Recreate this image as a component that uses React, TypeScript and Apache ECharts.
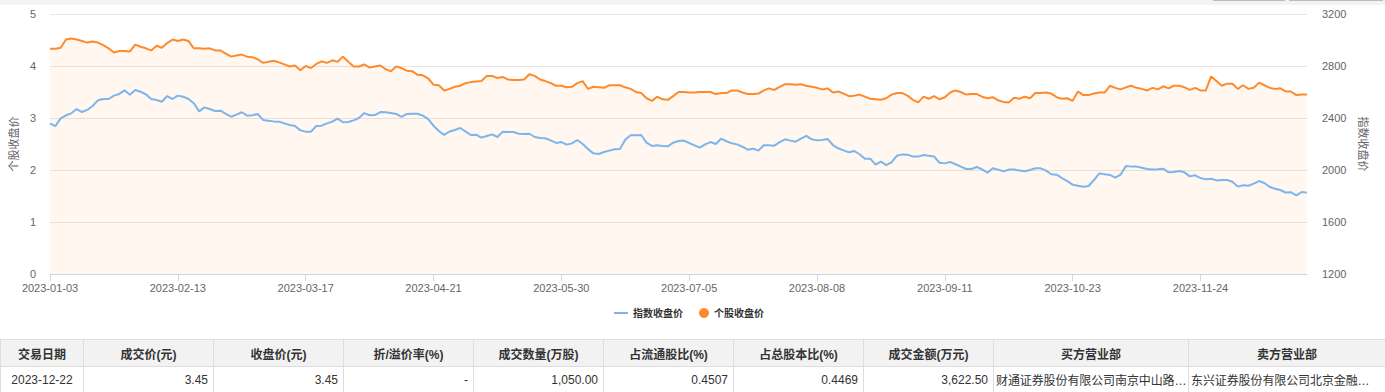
import React, { useEffect, useRef } from "react";
import * as echarts from "echarts";

// Trading days of 2023 (month -> days)
const tradingDays: [number, number[]][] = [
  [1, [3, 4, 5, 6, 9, 10, 11, 12, 13, 16, 17, 18, 19, 20, 30, 31]],
  [2, [1, 2, 3, 6, 7, 8, 9, 10, 13, 14, 15, 16, 17, 20, 21, 22, 23, 24, 27, 28]],
  [3, [1, 2, 3, 6, 7, 8, 9, 10, 13, 14, 15, 16, 17, 20, 21, 22, 23, 24, 27, 28, 29, 30, 31]],
  [4, [3, 4, 6, 7, 10, 11, 12, 13, 14, 17, 18, 19, 20, 21, 24, 25, 26, 27, 28]],
  [5, [4, 5, 8, 9, 10, 11, 12, 15, 16, 17, 18, 19, 22, 23, 24, 25, 26, 29, 30, 31]],
  [6, [1, 2, 5, 6, 7, 8, 9, 12, 13, 14, 15, 16, 19, 20, 21, 26, 27, 28, 29, 30]],
  [7, [3, 4, 5, 6, 7, 10, 11, 12, 13, 14, 17, 18, 19, 20, 21, 24, 25, 26, 27, 28, 31]],
  [8, [1, 2, 3, 4, 7, 8, 9, 10, 11, 14, 15, 16, 17, 18, 21, 22, 23, 24, 25, 28, 29, 30, 31]],
  [9, [1, 4, 5, 6, 7, 8, 11, 12, 13, 14, 15, 18, 19, 20, 21, 22, 25, 26, 27, 28]],
  [10, [9, 10, 11, 12, 13, 16, 17, 18, 19, 20, 23, 24, 25, 26, 27, 30, 31]],
  [11, [1, 2, 3, 6, 7, 8, 9, 10, 13, 14, 15, 16, 17, 20, 21, 22, 23, 24, 27, 28, 29, 30]],
  [12, [1, 4, 5, 6, 7, 8, 11, 12, 13, 14, 15, 18, 19, 20, 21, 22]],
];

const pad = (n: number) => (n < 10 ? "0" + n : "" + n);
const categories: string[] = tradingDays.flatMap(([m, days]) =>
  days.map((d) => `2023-${pad(m)}-${pad(d)}`)
);

// 个股收盘价 (left axis)
const stockClose: number[] = [
  4.33, 4.33, 4.35, 4.51, 4.53, 4.51, 4.48, 4.45, 4.47, 4.45,
  4.40, 4.34, 4.26, 4.29, 4.29, 4.28, 4.41, 4.37, 4.34, 4.30,
  4.39, 4.35, 4.44, 4.51, 4.48, 4.51, 4.48, 4.34, 4.34, 4.33,
  4.34, 4.30, 4.30, 4.24, 4.18, 4.20, 4.22, 4.18, 4.17, 4.13,
  4.06, 4.08, 4.10, 4.07, 4.03, 3.99, 4.01, 3.92, 4.00, 3.96,
  4.04, 4.09, 4.06, 4.11, 4.08, 4.18, 4.08, 3.99, 3.99, 4.03,
  3.97, 3.99, 4.01, 3.94, 3.90, 3.99, 3.96, 3.91, 3.90, 3.83,
  3.82, 3.76, 3.64, 3.63, 3.53, 3.56, 3.60, 3.62, 3.67, 3.69,
  3.70, 3.71, 3.81, 3.81, 3.77, 3.79, 3.74, 3.73, 3.73, 3.74,
  3.84, 3.81, 3.74, 3.71, 3.67, 3.62, 3.62, 3.59, 3.60, 3.67,
  3.71, 3.56, 3.60, 3.59, 3.58, 3.63, 3.63, 3.63, 3.59, 3.56,
  3.50, 3.48, 3.38, 3.33, 3.41, 3.36, 3.35, 3.42, 3.50, 3.50,
  3.49, 3.49, 3.50, 3.50, 3.50, 3.46, 3.48, 3.48, 3.53, 3.53,
  3.49, 3.46, 3.46, 3.47, 3.53, 3.57, 3.54, 3.60, 3.65, 3.65,
  3.64, 3.65, 3.62, 3.60, 3.58, 3.55, 3.57, 3.49, 3.51, 3.47,
  3.42, 3.43, 3.45, 3.41, 3.37, 3.36, 3.35, 3.38, 3.45, 3.48,
  3.48, 3.43, 3.35, 3.30, 3.41, 3.37, 3.42, 3.36, 3.40, 3.49,
  3.53, 3.50, 3.45, 3.46, 3.46, 3.41, 3.38, 3.40, 3.34, 3.31,
  3.30, 3.39, 3.37, 3.41, 3.38, 3.48, 3.48, 3.49, 3.47, 3.40,
  3.37, 3.38, 3.33, 3.51, 3.44, 3.44, 3.47, 3.49, 3.49, 3.62,
  3.58, 3.55, 3.59, 3.62, 3.58, 3.56, 3.53, 3.58, 3.55, 3.61,
  3.57, 3.62, 3.62, 3.59, 3.54, 3.58, 3.53, 3.53, 3.80, 3.71,
  3.62, 3.66, 3.66, 3.56, 3.63, 3.56, 3.58, 3.68, 3.63, 3.58,
  3.56, 3.57, 3.51, 3.51, 3.44, 3.45, 3.45,
];

// 指数收盘价 (right axis)
const indexClose: number[] = [
  2359, 2338, 2397, 2421, 2436, 2469, 2446, 2462, 2492, 2536,
  2546, 2546, 2572, 2585, 2613, 2579, 2615, 2602, 2582, 2546,
  2538, 2525, 2569, 2546, 2572, 2564, 2546, 2513, 2451, 2482,
  2469, 2454, 2456, 2431, 2410, 2426, 2444, 2418, 2421, 2431,
  2385, 2379, 2374, 2372, 2359, 2346, 2338, 2305, 2295, 2295,
  2338, 2341, 2359, 2372, 2395, 2367, 2369, 2382, 2400, 2438,
  2421, 2423, 2446, 2444, 2438, 2431, 2408, 2431, 2433, 2433,
  2418, 2392, 2341, 2300, 2270, 2296, 2308, 2323, 2297, 2269,
  2272, 2249, 2262, 2274, 2254, 2295, 2292, 2292, 2279, 2277,
  2279, 2254, 2246, 2244, 2228, 2208, 2215, 2195, 2205, 2231,
  2200, 2162, 2128, 2123, 2138, 2149, 2159, 2162, 2233, 2267,
  2267, 2269, 2210, 2185, 2190, 2185, 2182, 2210, 2223, 2226,
  2208, 2190, 2172, 2197, 2215, 2200, 2241, 2221, 2205, 2197,
  2179, 2156, 2164, 2149, 2190, 2190, 2187, 2215, 2236, 2226,
  2218, 2241, 2262, 2236, 2228, 2231, 2238, 2192, 2167, 2151,
  2136, 2146, 2121, 2087, 2087, 2041, 2064, 2038, 2059, 2110,
  2120, 2118, 2103, 2103, 2115, 2110, 2103, 2056, 2051, 2062,
  2044, 2026, 2008, 2008, 2023, 2005, 1979, 2013, 2003, 1990,
  2003, 2003, 1997, 1990, 2000, 2013, 2013, 1995, 1967, 1964,
  1938, 1915, 1887, 1879, 1872, 1877, 1923, 1974, 1967, 1962,
  1941, 1964, 2031, 2026, 2026, 2018, 2008, 2003, 2005, 2010,
  1982, 1985, 1992, 1982, 1951, 1959, 1938, 1928, 1933, 1920,
  1923, 1923, 1910, 1872, 1882, 1879, 1895, 1915, 1900, 1869,
  1856, 1846, 1826, 1828, 1805, 1831, 1826,
];

const tableHeaders: string[] = [
  "交易日期", "成交价(元)", "收盘价(元)", "折/溢价率(%)", "成交数量(万股)",
  "占流通股比(%)", "占总股本比(%)", "成交金额(万元)", "买方营业部", "卖方营业部",
];
const tableRow: string[] = [
  "2023-12-22", "3.45", "3.45", "-", "1,050.00",
  "0.4507", "0.4469", "3,622.50", "财通证券股份有限公司南京中山路…", "东兴证券股份有限公司北京金融…",
];
const colWidths = [83, 130, 130, 130, 130, 130, 130, 130, 195, 197];
const colAlign: ("center" | "right" | "left")[] = [
  "center", "right", "right", "right", "right", "right", "right", "right", "left", "left",
];

const FONT = "'Liberation Sans', Arial, 'Noto Sans CJK SC', sans-serif";

export default function App() {
  const ref = useRef<HTMLDivElement>(null);

  useEffect(() => {
    document.body.style.margin = "0";
    if (!ref.current) return;
    const chart = echarts.init(ref.current, undefined, { renderer: "svg" });
    chart.setOption({
      animation: false,
      textStyle: { fontFamily: FONT },
      grid: { left: 50, right: 78, top: 9, height: 260 },
      legend: [
        {
          data: ["指数收盘价"],
          left: 609,
          top: 298,
          icon: "rect",
          itemWidth: 14,
          itemHeight: 2,
          itemGap: 10,
          textStyle: { fontSize: 10, color: "#333", fontWeight: "bold", fontFamily: FONT },
        },
        {
          data: ["个股收盘价"],
          left: 694,
          top: 298,
          icon: "circle",
          itemWidth: 10,
          itemHeight: 10,
          textStyle: { fontSize: 10, color: "#333", fontWeight: "bold", fontFamily: FONT },
        },
      ],
      xAxis: {
        type: "category",
        boundaryGap: false,
        data: categories,
        axisLine: { lineStyle: { color: "#ccd6eb" } },
        axisTick: { interval: 23, length: 7, lineStyle: { color: "#ccd6eb" } },
        axisLabel: { interval: 23, color: "#666", fontSize: 11, margin: 8 },
        splitLine: { show: false },
      },
      yAxis: [
        {
          type: "value",
          position: "left",
          min: 0,
          max: 5,
          interval: 1,
          name: "个股收盘价",
          nameLocation: "middle",
          nameGap: 28,
          nameTextStyle: { color: "#666", fontSize: 11 },
          axisLine: { show: false },
          axisTick: { show: false },
          axisLabel: { color: "#666", fontSize: 11, margin: 14, formatter: (v: number) => String(v) },
          splitLine: { lineStyle: { color: "#e6e6e6" } },
        },
        {
          type: "value",
          position: "right",
          min: 1200,
          max: 3200,
          interval: 400,
          name: "指数收盘价",
          nameLocation: "middle",
          nameRotate: -90,
          nameGap: 46,
          nameTextStyle: { color: "#666", fontSize: 11 },
          axisLine: { show: false },
          axisTick: { show: false },
          axisLabel: { color: "#666", fontSize: 11, margin: 15, formatter: (v: number) => String(v) },
          splitLine: { show: false },
        },
      ],
      series: [
        {
          name: "个股收盘价",
          type: "line",
          yAxisIndex: 0,
          data: stockClose,
          symbol: "none",
          color: "#ff8a2b",
          lineStyle: { width: 2, color: "#ff8a2b" },
          areaStyle: { color: "rgba(255,140,40,0.1)" },
        },
        {
          name: "指数收盘价",
          type: "line",
          yAxisIndex: 1,
          data: indexClose,
          symbol: "none",
          color: "#7cb5ec",
          lineStyle: { width: 2, color: "#7cb5ec" },
        },
      ],
    });
    return () => chart.dispose();
  }, []);

  const cellBase: React.CSSProperties = {
    border: "1px solid #dddddd",
    padding: "0 5px",
    whiteSpace: "nowrap",
    overflow: "hidden",
    textOverflow: "ellipsis",
    fontSize: 12,
    color: "#333",
    boxSizing: "border-box",
  };

  return (
    <div style={{ width: 1385, fontFamily: FONT, background: "#fff" }}>
      <div style={{ height: 5, background: "#f3f3f3", position: "relative" }}>
        <div style={{ position: "absolute", top: 0, left: 1213, width: 72, height: 1, background: "#bdbdbd" }} />
        <div style={{ position: "absolute", top: 0, left: 1289, width: 94, height: 1, background: "#bdbdbd" }} />
      </div>
      <div ref={ref} style={{ width: 1385, height: 334 }} />
      <table
        style={{
          width: 1385,
          borderCollapse: "collapse",
          tableLayout: "fixed",
          margin: 0,
        }}
      >
        <colgroup>
          {colWidths.map((w, i) => (
            <col key={i} style={{ width: w }} />
          ))}
        </colgroup>
        <thead>
          <tr style={{ height: 27, background: "#f2f2f2" }}>
            {tableHeaders.map((h, i) => (
              <th key={i} style={{ ...cellBase, textAlign: "center", fontWeight: 600 }}>
                {h}
              </th>
            ))}
          </tr>
        </thead>
        <tbody>
          <tr style={{ height: 26 }}>
            {tableRow.map((v, i) => (
              <td
                key={i}
                style={{
                  ...cellBase,
                  textAlign: colAlign[i],
                  padding: colAlign[i] === "left" ? "0 0 0 2px" : "0 5px",
                  overflow: colAlign[i] === "left" ? "visible" : "hidden",
                  textOverflow: colAlign[i] === "left" ? "clip" : "ellipsis",
                  letterSpacing: colAlign[i] === "left" ? -0.1 : 0,
                }}
              >
                {v}
              </td>
            ))}
          </tr>
        </tbody>
      </table>
    </div>
  );
}
